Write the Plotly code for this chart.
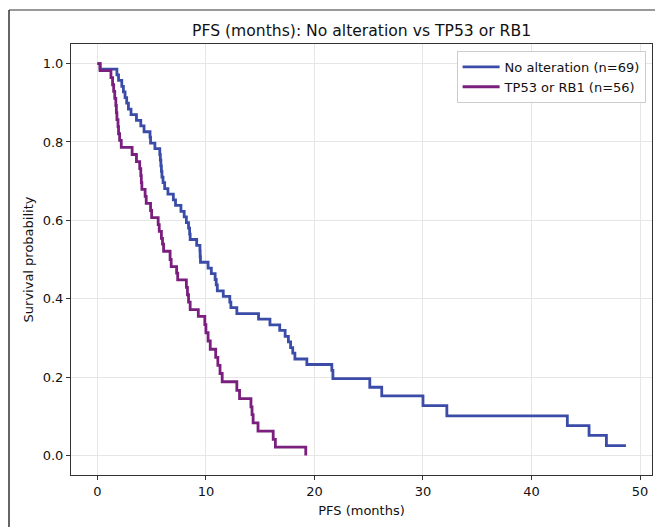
import plotly.graph_objects as go

# ---- data ----
blue_name = "No alteration (n=69)"
blue_t = [0, 0.25, 1.8, 1.95, 2.25, 2.4, 2.55, 2.7, 2.86, 3.1,
          3.6, 4.0, 4.3, 4.85, 4.9, 5.3, 5.75, 5.8, 5.85, 5.9,
          5.95, 6.05, 6.2, 6.5, 7.0, 7.2, 7.7, 8.0, 8.2, 8.4,
          8.5, 8.55, 9.15, 9.45, 9.47, 9.5, 10.2, 10.5, 10.85, 10.95,
          11.05, 11.6, 12.2, 12.3, 12.85, 14.85, 15.9, 16.8, 17.3, 17.6,
          17.8, 18.0, 18.2, 19.3, 21.6, 21.7, 25.1, 26.2, 30.0, 32.2,
          43.3, 45.3, 46.9, 48.7]
blue_s = [1.0, 0.986, 0.971, 0.957, 0.942, 0.928, 0.913, 0.899, 0.884, 0.870,
          0.855, 0.841, 0.826, 0.812, 0.797, 0.783, 0.768, 0.754, 0.739, 0.725,
          0.710, 0.696, 0.681, 0.667, 0.652, 0.638, 0.623, 0.609, 0.594, 0.580,
          0.565, 0.551, 0.536, 0.522, 0.507, 0.493, 0.478, 0.464, 0.449, 0.435,
          0.420, 0.406, 0.391, 0.377, 0.362, 0.348, 0.333, 0.319, 0.304, 0.290,
          0.275, 0.261, 0.246, 0.232, 0.217, 0.196, 0.174, 0.152, 0.127, 0.101,
          0.076, 0.051, 0.025, 0.025]

purple_name = "TP53 or RB1 (n=56)"
purple_t = [0, 0.25, 1.25, 1.4, 1.5, 1.6, 1.7, 1.75, 1.8, 1.9,
            1.95, 2.05, 2.2, 3.2, 3.6, 3.9, 4.0, 4.05, 4.1, 4.4,
            4.5, 4.9, 5.0, 5.6, 5.7, 5.9, 6.0, 6.1, 6.7, 6.8,
            7.3, 7.4, 8.2, 8.3, 8.4, 8.55, 9.3, 9.9, 10.0, 10.2,
            10.4, 10.9, 11.1, 11.3, 11.5, 12.85, 13.1, 14.15, 14.25, 14.35,
            14.8, 16.2, 16.4, 19.2]
purple_s = [1.0, 0.982, 0.964, 0.946, 0.929, 0.911, 0.893, 0.875, 0.857, 0.839,
            0.821, 0.804, 0.786, 0.768, 0.750, 0.732, 0.714, 0.696, 0.679, 0.661,
            0.643, 0.625, 0.607, 0.589, 0.572, 0.554, 0.539, 0.521, 0.500, 0.482,
            0.465, 0.448, 0.429, 0.410, 0.391, 0.372, 0.355, 0.334, 0.313, 0.292,
            0.271, 0.250, 0.230, 0.209, 0.188, 0.166, 0.145, 0.124, 0.104, 0.083,
            0.062, 0.041, 0.021, 0.0]

x_ticks = [0, 10, 20, 30, 40, 50]
y_ticks = [0.0, 0.2, 0.4, 0.6, 0.8, 1.0]

title_text = "PFS (months): No alteration vs TP53 or RB1"
x_title = "PFS (months)"
y_title = "Survival probability"

BLUE = "#3B4CA8"
PURPLE = "#7A1F7E"
FONT = "DejaVu Sans"
TXT = "#111111"

fig = go.Figure()
fig.add_trace(go.Scatter(x=blue_t, y=blue_s, mode="lines", name=blue_name,
                         line=dict(color=BLUE, width=2.8, shape="hv")))
fig.add_trace(go.Scatter(x=purple_t, y=purple_s, mode="lines", name=purple_name,
                         line=dict(color=PURPLE, width=2.8, shape="hv")))

axis_common = dict(showgrid=True, gridcolor="#e6e6e6", gridwidth=1,
                   showline=True, linecolor="#333333", linewidth=1, mirror=True,
                   ticks="outside", ticklen=4, tickcolor="#333333",
                   tickfont=dict(family=FONT, size=13, color=TXT),
                   zeroline=False)

fig.update_xaxes(range=[-2.43, 51.1], tickvals=x_ticks,
                 ticktext=[str(v) for v in x_ticks],
                 title=dict(text=x_title, font=dict(family=FONT, size=13, color=TXT), standoff=8),
                 **axis_common)
fig.update_yaxes(range=[-0.05, 1.05], tickvals=y_ticks,
                 ticktext=[f"{v:.1f}" for v in y_ticks],
                 title=dict(text=y_title, font=dict(family=FONT, size=13, color=TXT), standoff=6),
                 **axis_common)

fig.update_layout(
    width=655, height=527,
    margin=dict(l=71, r=3, t=44, b=52),
    paper_bgcolor="white", plot_bgcolor="white",
    font=dict(family=FONT, size=13, color=TXT),
    title=dict(text=title_text, x=0.552, xanchor="center", y=1 - 31 / 527,
               yanchor="middle", yref="container",
               font=dict(family=FONT, size=15.6, color=TXT)),
    legend=dict(x=0.989, y=0.984, xanchor="right", yanchor="top",
                bgcolor="rgba(255,255,255,0.9)", bordercolor="#cccccc", borderwidth=1,
                font=dict(family=FONT, size=13, color=TXT),
                itemwidth=37, tracegroupgap=0),
    showlegend=True,
)

# outer frame lines (top and left) visible in the reference
fig.add_shape(type="line", xref="paper", yref="paper",
              x0=(9 - 71) / 581, x1=1.01, y0=1 + (44 - 10) / 431, y1=1 + (44 - 10) / 431,
              line=dict(color="#777777", width=1.5))
fig.add_shape(type="line", xref="paper", yref="paper",
              x0=(9 - 71) / 581, x1=(9 - 71) / 581, y0=1 + (44 - 10) / 431, y1=-0.13,
              line=dict(color="#333333", width=1.5))

fig.write_html("out.html")
